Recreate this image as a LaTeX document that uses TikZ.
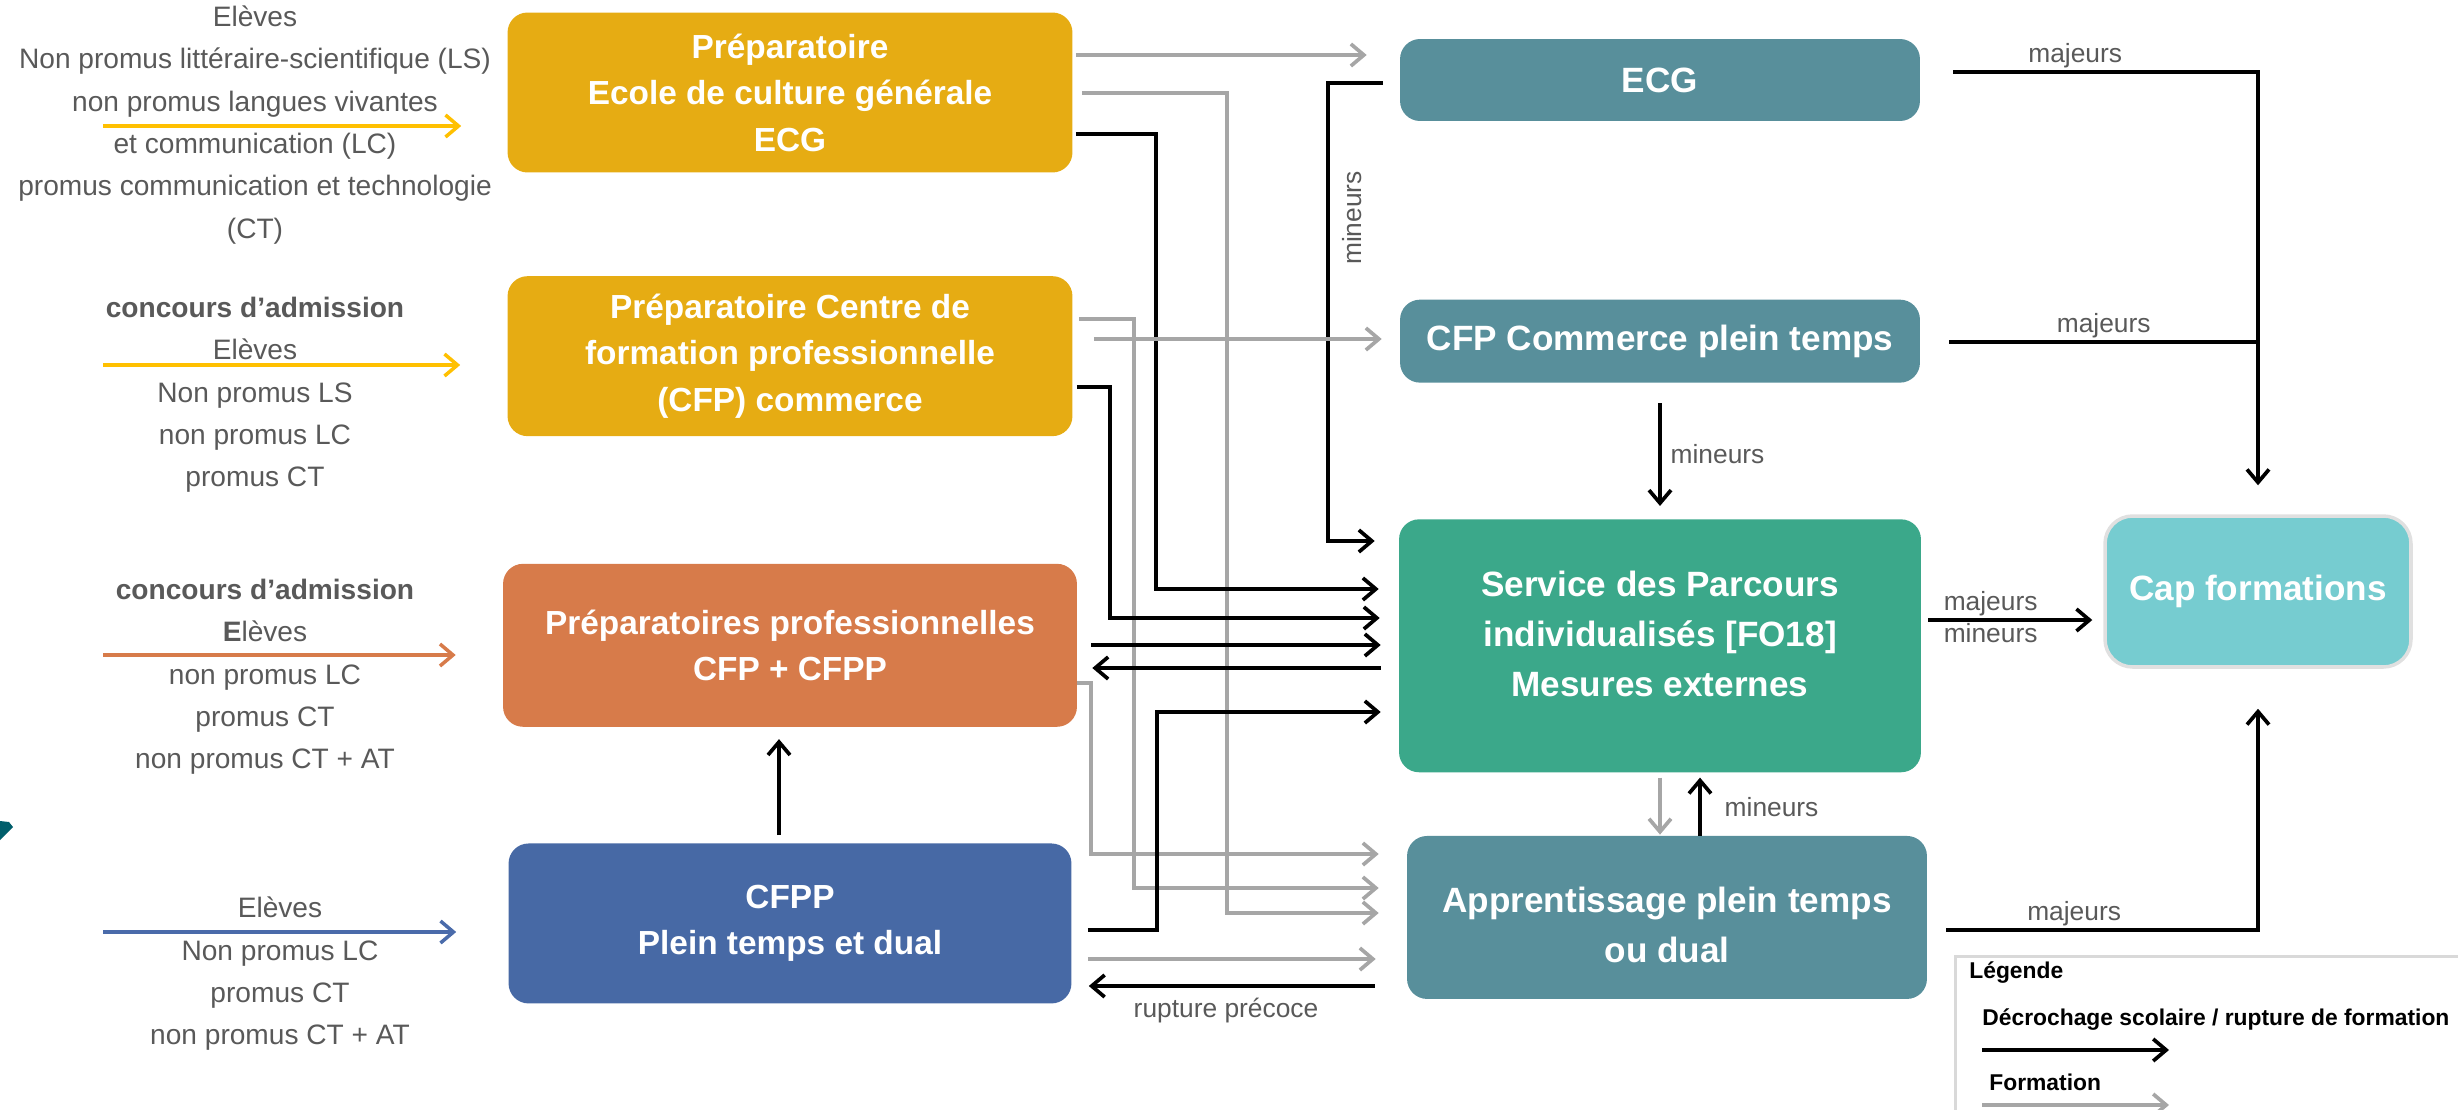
\documentclass[tikz,border=0pt]{standalone}
\usepackage{fontspec}
\setmainfont{Liberation Sans}
\usetikzlibrary{positioning, arrows.meta, calc}

\definecolor{prepyellow}{HTML}{E6AC13}
\definecolor{proorange}{HTML}{D77B4A}
\definecolor{cfppblue}{HTML}{4769A5}
\definecolor{formteal}{HTML}{588F9B}
\definecolor{spigreen}{HTML}{3BA88A}
\definecolor{capcyan}{HTML}{76CCD0}
\definecolor{inyellow}{HTML}{FFC000}
\definecolor{inblue}{HTML}{4A6BAA}
\definecolor{lightgray}{HTML}{A6A6A6}
\definecolor{txtgray}{HTML}{595959}
\definecolor{leggray}{HTML}{D9D9D9}
\definecolor{blobteal}{HTML}{005E6B}

\begin{document}
\begin{tikzpicture}[x=0.02cm, y=-0.02cm, >={Straight Barb[length=2.6mm,width=4.4mm]},
        box/.style = {rectangle, rounded corners=0.4cm, text=white, align=center, inner sep=0pt,
            font=\fontsize{19}{26.5}\selectfont\bfseries},
        rbox/.style = {box, font=\fontsize{20}{28.4}\selectfont\bfseries},
        prep/.style = {box, fill=prepyellow, minimum width=11.3cm, minimum height=3.2cm},
        probox/.style = {box, fill=proorange, minimum width=11.48cm, minimum height=3.26cm},
        cfppbox/.style = {box, fill=cfppblue, minimum width=11.26cm, minimum height=3.2cm},
        formbox/.style = {rbox, fill=formteal, minimum width=10.4cm},
        spibox/.style = {rbox, fill=spigreen, minimum width=10.44cm, minimum height=5.06cm},
        capbox/.style = {rbox, fill=capcyan, draw=black!12, line width=2pt, rounded corners=0.55cm,
            minimum width=6.12cm, minimum height=3.02cm},
        info/.style = {align=center, text=txtgray, inner sep=0pt, font=\fontsize{16}{24.1}\selectfont},
        lbl/.style = {text=txtgray, inner sep=1pt, font=\fontsize{15}{18}\selectfont},
        legtxt/.style = {anchor=west, inner sep=0pt, font=\fontsize{13}{16}\selectfont\bfseries},
        rupt/.style = {draw=black, line width=2.1pt, ->},
        form/.style = {draw=lightgray, line width=2.1pt, ->},
        entry/.style = {draw=#1, line width=2pt, ->},
        ]
        \useasboundingbox (0,0) rectangle (2458,1109);

        \node [prep] (prepecg) at (790,92.5) {Préparatoire\\Ecole de culture générale\\ECG};
        \node [prep, below=2.06cm of prepecg] (prepcfp) {Préparatoire Centre de\\formation professionnelle\\(CFP) commerce};
        \node [probox, below=2.54cm of prepcfp] (prepro) {Préparatoires professionnelles\\CFP + CFPP};
        \node [cfppbox, below=2.32cm of prepro] (cfpp) {CFPP\\Plein temps et dual};

        \node [formbox, minimum height=1.64cm] (ecg) at (1660,80) {ECG};
        \node [formbox, minimum height=1.66cm, below=3.56cm of ecg] (cfpcom) {CFP Commerce plein temps};
        \node [spibox, below=2.72cm of cfpcom] (spi) {Service des Parcours\\individualisés [FO18]\\Mesures externes\\[-0.52cm]};
        \node [formbox, minimum height=3.26cm, below=1.26cm of spi, xshift=0.14cm] (appr) {\\[-0.2cm]Apprentissage plein temps\\ou dual};
        \node [capbox] (cap) at (2258,591.5) {Cap formations};

        \node [info] (txtecg) at (255,125) {Elèves\\Non promus littéraire-scientifique (LS)\\non promus langues vivantes\\et communication (LC)\\promus communication et technologie\\(CT)};
        \node [info] (txtcfp) at (255,395) {\textbf{concours d’admission}\\Elèves\\Non promus LS\\non promus LC\\promus CT};
        \node [info] (txtpro) at (265,677) {\textbf{concours d’admission}\\\textbf{E}lèves\\non promus LC\\promus CT\\non promus CT + AT};
        \node [info] (txtcfpp) at (280,974) {Elèves\\Non promus LC\\promus CT\\non promus CT + AT};

        \coordinate (inecg) at (103,126);
        \coordinate (incfp) at (103,365);
        \coordinate (inpro) at (103,655);
        \coordinate (incfpp) at (103,932);
        \draw [entry=inyellow] (inecg) -- ($(prepecg.west |- inecg)+(-46,0)$);
        \draw [entry=inyellow] (incfp) -- ($(prepcfp.west |- incfp)+(-47,0)$);
        \draw [entry=proorange] (inpro) -- ($(prepro.west |- inpro)+(-47,0)$);
        \draw [entry=inblue] (incfpp) -- ($(cfpp.west |- incfpp)+(-52,0)$);

        \draw [form] ($(prepecg.east |- 0,55)+(3,0)$) -- ($(ecg.west |- 0,55)+(-33,0)$);
        \draw [form] ($(prepecg.east |- 0,93)+(9,0)$) -- ++(145,0) |- ($(appr.west |- 0,913)+(-28,0)$);
        \draw [rupt] ($(prepecg.east |- 0,134)+(3,0)$) -- ++(80,0) |- ($(spi.west |- 0,589)+(-20,0)$);
        \draw [rupt] ($(ecg.west |- 0,83)+(-17,0)$) -- ++(-55,0) |- ($(spi.west |- 0,541)+(-24,0)$);
        \node [lbl, rotate=90] (minecg) at (1352,218) {mineurs};

        \draw [form] ($(prepcfp.east |- 0,319)+(6,0)$) -- ++(55,0) |- ($(appr.west |- 0,888)+(-28,0)$);
        \draw [form] ($(prepcfp.east |- 0,339)+(21,0)$) -- ($(cfpcom.west |- 0,339)+(-18,0)$);
        \draw [rupt] ($(prepcfp.east |- 0,387)+(4,0)$) -- ++(33,0) |- ($(spi.west |- 0,618)+(-19,0)$);

        \draw [rupt] ($(prepro.east |- 0,645)+(14,0)$) -- ($(spi.west |- 0,645)+(-18,0)$);
        \draw [rupt] ($(spi.west |- 0,668)+(-18,0)$) -- ($(prepro.east |- 0,668)+(15,0)$);
        \draw [form] (prepro.east |- 0,683) -- ++(14,0) |- ($(appr.west |- 0,854)+(-28,0)$);

        \draw [rupt] ($(cfpp.east |- 0,930)+(16,0)$) -- ++(69,0) |- ($(spi.west |- 0,712)+(-18,0)$);
        \draw [form] ($(cfpp.east |- 0,959)+(16,0)$) -- ($(appr.west |- 0,959)+(-31,0)$);
        \draw [rupt] ($(appr.west |- 0,986)+(-32,0)$) -- node[lbl, below=5pt, pos=0.52] {rupture précoce} ($(cfpp.east |- 0,986)+(17,0)$);
        \draw [rupt] ($(cfpp.north)+(-11,-8)$) -- ($(prepro.south)+(-11,12)$);

        \draw [rupt] ($(cfpcom.south)+(0,20)$) -- node[lbl, right=4pt] {mineurs} ($(spi.north)+(0,-13)$);
        \draw [form] ($(spi.south)+(0,5)$) -- ($(appr.north -| spi.south)+(0,-1)$);
        \draw [rupt] ($(appr.north -| spi.south)+(40,0)$) -- node[lbl, right=12pt] {mineurs} ($(spi.south)+(40,5)$);

        \draw [rupt] ($(ecg.east |- 0,72)+(33,0)$) -- node[lbl, above, pos=0.4] {majeurs} (cap.north |- 0,72) -- ($(cap.north)+(0,-29)$);
        \draw [rupt, -] ($(cfpcom.east |- 0,342)+(29,0)$) -- node[lbl, above, pos=0.5] {majeurs} (cap.north |- 0,342);
        \draw [rupt] ($(spi.east |- 0,620)+(7,0)$) -- node[lbl, above, pos=0.38] {majeurs} node[lbl, below, pos=0.38] {mineurs} ($(cap.west |- 0,620)+(-11,0)$);
        \draw [rupt] ($(appr.east |- 0,930)+(19,0)$) -- node[lbl, above, pos=0.41] {majeurs} (cap.south |- 0,930) -- ($(cap.south)+(0,40)$);

        \node [draw=leggray, line width=1.7pt, anchor=north west, minimum width=11cm, minimum height=4cm] (legend) at (1954,955) {};
        \node [legtxt] (legtitle) at (1969,973) {Légende};
        \node [legtxt] (legdec) at (1982,1020) {Décrochage scolaire / rupture de formation};
        \node [legtxt] (legform) at (1989,1082) {Formation};
        \coordinate (legrupt) at (1982,1050);
        \coordinate (legrupt2) at (2169,1050);
        \coordinate (legform1) at (1982,1105);
        \coordinate (legform2) at (2169,1105);
        \draw [rupt] (legrupt) -- (legrupt2);
        \draw [form] (legform1) -- (legform2);

        \fill [blobteal] (0,821) -- (9,822) -- (13,827) -- (0,840) -- cycle;
    \end{tikzpicture}
\end{document}
